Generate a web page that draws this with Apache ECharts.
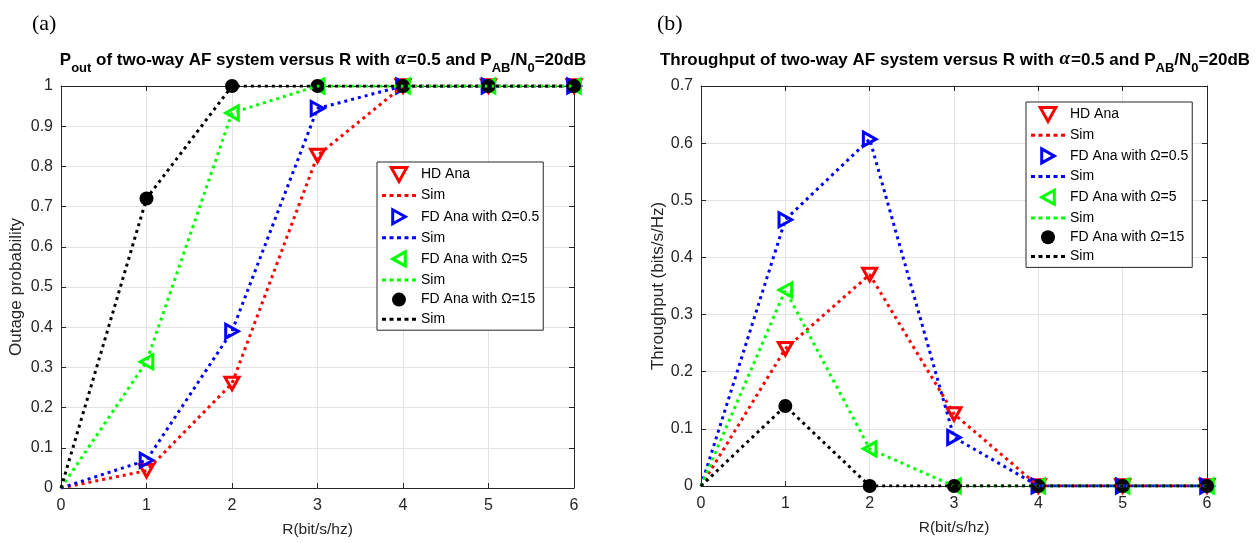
<!DOCTYPE html>
<html>
<head>
<meta charset="utf-8">
<script src="https://cdn.jsdelivr.net/npm/echarts@6/dist/echarts.min.js"></script>
<style>
  html, body { margin: 0; padding: 0; background: #fff; }
  #main { width: 1258px; height: 543px; }
</style>
</head>
<body>
<div id="main"></div>
<script>
// x values (R, bit/s/hz)
var R = [0, 1, 2, 3, 4, 5, 6];

// (a) outage probability
var outHD   = [0, 0.043, 0.26, 0.827, 1, 1, 1];
var outFD05 = [0, 0.069, 0.39, 0.944, 1, 1, 1];
var outFD5  = [0, 0.314, 0.933, 1, 1, 1, 1];
var outFD15 = [0, 0.72, 1, 1, 1, 1, 1];

// (b) throughput
var thrHD   = [0, 0.24, 0.37, 0.126, 0, 0, 0];
var thrFD05 = [0, 0.466, 0.607, 0.085, 0, 0, 0];
var thrFD5  = [0, 0.343, 0.065, 0, 0, 0, 0];
var thrFD15 = [0, 0.14, 0, 0, 0, 0, 0];

var names = ['HD Ana', 'Sim', 'FD Ana with \u03a9=0.5', 'Sim ', 'FD Ana with \u03a9=5', 'Sim  ', 'FD Ana with \u03a9=15', 'Sim   '];

var FONT = "'Liberation Sans', Arial, sans-serif";
var AXC = '#262626';
var GRIDC = '#e3e3e3';

// marker shapes (down / right / left triangles, filled circle)
var styles = [
  { color: '#ff0000', symbol: 'path://M0,0 L10,0 L5,9 Z',  size: 14, fill: false },
  { color: '#0000ff', symbol: 'path://M0,0 L9,5 L0,10 Z',  size: 14, fill: false },
  { color: '#00ff00', symbol: 'path://M9,0 L0,5 L9,10 Z',  size: 14, fill: false },
  { color: '#000000', symbol: 'circle', size: 14, fill: true }
];

// five dots for the "Sim" legend entries
var DOTS = 'path://M0,0h4v3h-4z M7.5,0h4v3h-4z M15,0h4v3h-4z M22.5,0h4v3h-4z M30,0h4v3h-4z';

function pts(ys, from) {
  var d = [];
  for (var i = from; i < R.length; i++) d.push([R[i], ys[i]]);
  return d;
}

function markStyle(s) {
  return { color: s.fill ? s.color : 'rgba(0,0,0,0)', borderColor: s.color, borderWidth: s.fill ? 0 : 3, opacity: 1 };
}

function makeSeries(list, g) {
  var out = [];
  for (var k = 0; k < list.length; k++) {
    var s = styles[k];
    out.push({
      type: 'scatter', name: names[k * 2], xAxisIndex: g * 2, yAxisIndex: g * 2,
      data: pts(list[k], 1),
      symbol: s.symbol, symbolSize: s.size, symbolKeepAspect: true,
      itemStyle: markStyle(s),
      silent: true
    });
    out.push({
      type: 'line', name: names[k * 2 + 1], xAxisIndex: g * 2, yAxisIndex: g * 2,
      data: pts(list[k], 0),
      symbol: 'none',
      lineStyle: { color: s.color, width: 3, type: [3, 4] },
      itemStyle: { color: s.color },
      silent: true
    });
  }
  return out;
}

function legendData() {
  var d = [];
  for (var k = 0; k < styles.length; k++) {
    var s = styles[k];
    d.push({ name: names[k * 2], icon: s.symbol, itemStyle: markStyle(s) });
    d.push({ name: names[k * 2 + 1], icon: DOTS,
      itemStyle: { color: s.color, borderWidth: 0, opacity: 1 } });
  }
  return d;
}

function xAxes(g) {
  return [
    { gridIndex: g, type: 'value', min: 0, max: 6, interval: 1, position: 'bottom',
      name: 'R(bit/s/hz)', nameLocation: 'middle', nameGap: 34,
      nameTextStyle: { fontFamily: FONT, fontSize: 15.5, color: AXC },
      axisLine: { show: true, onZero: false, lineStyle: { color: AXC, width: 1 } },
      axisTick: { show: true, inside: true, length: 5, lineStyle: { color: AXC } },
      axisLabel: { fontFamily: FONT, fontSize: 16, color: AXC, margin: 10 },
      splitLine: { show: true, lineStyle: { color: GRIDC, width: 1 } } },
    { gridIndex: g, type: 'value', min: 0, max: 6, interval: 1, position: 'top',
      axisLine: { show: true, onZero: false, lineStyle: { color: AXC, width: 1 } },
      axisTick: { show: true, inside: true, length: 5, lineStyle: { color: AXC } },
      axisLabel: { show: false }, splitLine: { show: false } }
  ];
}

function yAxes(g, max, name, gap) {
  return [
    { gridIndex: g, type: 'value', min: 0, max: max, interval: 0.1, position: 'left',
      name: name, nameLocation: 'middle', nameGap: gap,
      nameTextStyle: { fontFamily: FONT, fontSize: 17, color: AXC },
      axisLine: { show: true, onZero: false, lineStyle: { color: AXC, width: 1 } },
      axisTick: { show: true, inside: true, length: 5, lineStyle: { color: AXC } },
      axisLabel: { fontFamily: FONT, fontSize: 16, color: AXC, margin: 8 },
      splitLine: { show: true, lineStyle: { color: GRIDC, width: 1 } } },
    { gridIndex: g, type: 'value', min: 0, max: max, interval: 0.1, position: 'right',
      axisLine: { show: true, onZero: false, lineStyle: { color: AXC, width: 1 } },
      axisTick: { show: true, inside: true, length: 5, lineStyle: { color: AXC } },
      axisLabel: { show: false }, splitLine: { show: false } }
  ];
}

var rich = {
  b:   { fontFamily: FONT, fontSize: 17, fontWeight: 'bold', color: '#000', lineHeight: 20, verticalAlign: 'bottom', padding: [0, 0, 6, 0] },
  it:  { fontFamily: "'Liberation Serif', serif", fontSize: 19, fontStyle: 'italic', color: '#000', lineHeight: 20, verticalAlign: 'bottom', padding: [0, 1, 6, 1] },
  sub: { fontFamily: FONT, fontSize: 13, fontWeight: 'bold', color: '#000', lineHeight: 14, verticalAlign: 'bottom' }
};

var legendCommon = {
  orient: 'vertical', itemWidth: 34, itemHeight: 14, padding: [4, 4, 4, 5],
  backgroundColor: '#fff', borderColor: AXC, borderWidth: 1, selectedMode: false,
  symbolKeepAspect: true,
  textStyle: { fontFamily: FONT, fontSize: 14, color: '#000' }
};

var chart = echarts.init(document.getElementById('main'), null, { renderer: 'canvas' });

var option = {
  backgroundColor: '#fff',
  animation: false,
  title: [
    { text: '(a)', left: 27, top: 8, textStyle: { fontFamily: "'Liberation Serif', serif", fontSize: 22, fontWeight: 'normal', color: '#000' } },
    { text: '(b)', left: 652, top: 8, textStyle: { fontFamily: "'Liberation Serif', serif", fontSize: 22, fontWeight: 'normal', color: '#000' } },
    { text: '{b|P}{sub|out}{b| of two-way AF system versus R with }{it|\u03b1}{b|=0.5 and P}{sub|AB}{b|/N}{sub|0}{b|=20dB}',
      left: 318, top: 50, textAlign: 'center', textStyle: { rich: rich } },
    { text: '{b|Throughput of two-way AF system versus R with }{it|\u03b1}{b|=0.5 and P}{sub|AB}{b|/N}{sub|0}{b|=20dB}',
      left: 950, top: 50, textAlign: 'center', textStyle: { rich: rich } }
  ],
  grid: [
    { left: 61, right: 684, top: 86, bottom: 51 },
    { left: 701, right: 51, top: 86, bottom: 57 }
  ],
  xAxis: xAxes(0).concat(xAxes(1)),
  yAxis: yAxes(0, 1, 'Outage probability', 36).concat(yAxes(1, 0.7, 'Throughput (bits/s/Hz)', 33)),
  legend: [
    echarts.util.extend({ left: 377, top: 162, itemGap: 5.6, data: legendData() }, legendCommon),
    echarts.util.extend({ left: 1026, top: 102, itemGap: 5.2, data: legendData() }, legendCommon)
  ],
  series: makeSeries([outHD, outFD05, outFD5, outFD15], 0)
    .concat(makeSeries([thrHD, thrFD05, thrFD5, thrFD15], 1))
};

chart.setOption(option);
</script>
</body>
</html>
